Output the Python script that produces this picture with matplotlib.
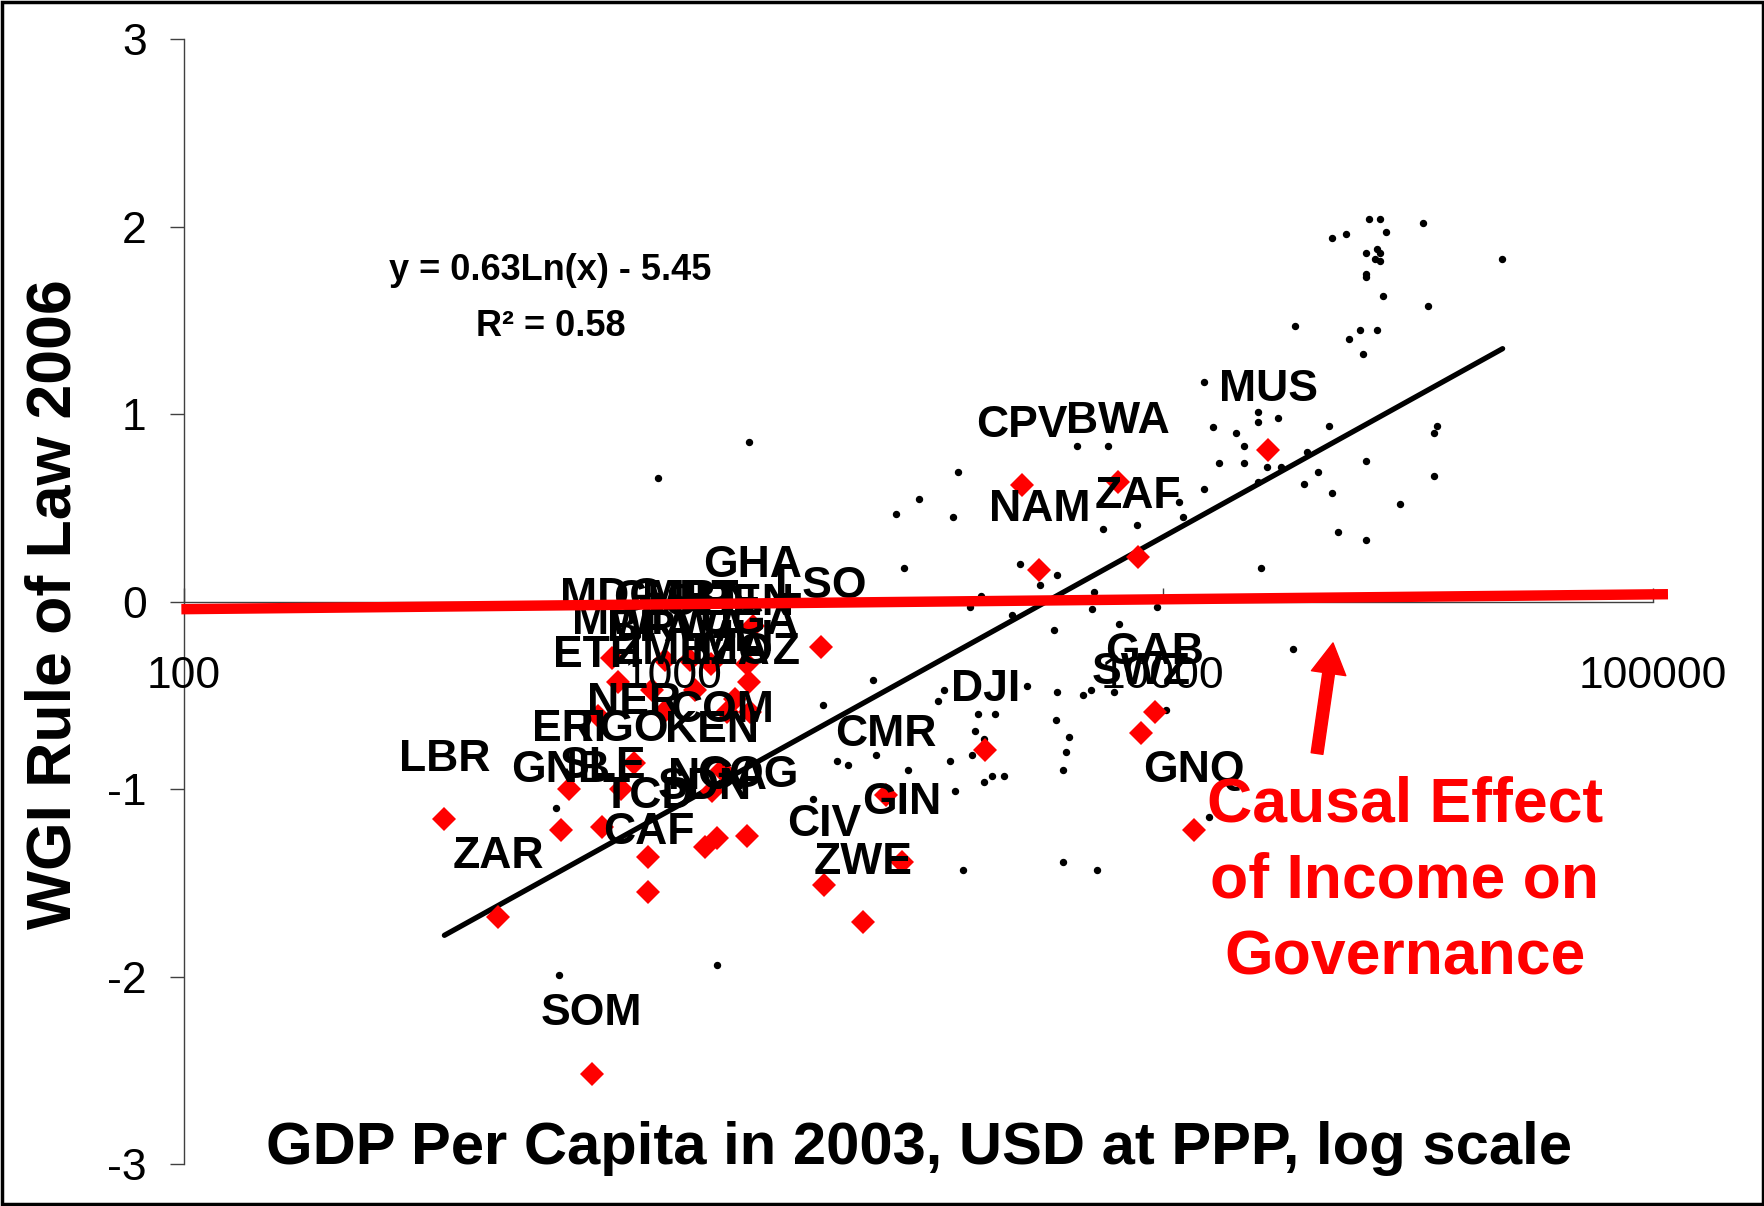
import matplotlib
matplotlib.use("Agg")
import matplotlib.pyplot as plt
from matplotlib.patches import Rectangle
from matplotlib.ticker import FixedLocator, FixedFormatter, NullLocator

plt.rcParams["font.family"] = ["Liberation Sans", "DejaVu Sans"]
plt.rcParams["axes.unicode_minus"] = False

# other countries (black dots): GDP per capita 2003 (USD PPP), WGI rule of law 2006
other_gdp = [26300, 27750, 33900, 22100, 23650, 28500, 26000, 27400, 27750, 27100,
             27750, 49200, 25950, 25950, 28150, 34800, 18650, 25300, 27400, 24000,
             25600, 12150, 15650, 15650, 17200, 21850, 36250, 35800, 12650, 14100,
             7740, 14650, 13000, 14650, 16300, 17450, 19650, 26000, 20700, 35800,
             19400, 22150, 15650, 12150, 10800, 30500, 11000, 7540, 8840, 22750,
             26000, 15850, 9710, 8150, 6680, 3820, 3170, 2850, 3720, 2960,
             5110, 6090, 5610, 4250, 4030, 4920, 7230, 7160, 6000, 2560,
             2020, 3570, 3480, 5270, 6090, 6860, 7140, 7950, 4200, 4540,
             6040, 4140, 4310, 6420, 6330, 6250, 2160, 2280, 2600, 3010,
             3670, 4080, 4480, 4730, 4310, 3770, 10150, 1930, 3910, 6250,
             7330, 12400, 18400, 1430, 930, 576, 585, 1230]
other_wgi = [2.04, 2.04, 2.02, 1.94, 1.96, 1.97, 1.86, 1.88, 1.86, 1.83,
             1.82, 1.83, 1.75, 1.73, 1.63, 1.58, 1.47, 1.45, 1.45, 1.40,
             1.32, 1.17, 1.01, 0.96, 0.98, 0.94, 0.94, 0.90, 0.93, 0.90,
             0.83, 0.83, 0.74, 0.74, 0.72, 0.72, 0.80, 0.75, 0.69, 0.67,
             0.63, 0.58, 0.64, 0.60, 0.53, 0.52, 0.45, 0.39, 0.41, 0.37,
             0.33, 0.18, -0.03, -0.12, 0.83, 0.69, 0.55, 0.47, 0.45, 0.18,
             0.20, 0.14, 0.09, 0.03, -0.03, -0.07, 0.05, -0.04, -0.15, -0.42,
             -0.55, -0.47, -0.53, -0.45, -0.48, -0.50, -0.47, -0.48, -0.60, -0.60,
             -0.63, -0.69, -0.73, -0.72, -0.80, -0.90, -0.85, -0.87, -0.82, -0.90,
             -0.85, -0.82, -0.93, -0.93, -0.96, -1.01, -0.58, -1.05, -1.43, -1.39,
             -1.43, -1.15, -0.25, 0.85, 0.66, -1.10, -1.99, -1.94]

# sub-Saharan Africa (red diamonds)
africa_code = ["LBR", "ZAR", "GNB", "ERI", "SLE", "TCD", "CAF", "SOM", "NER", "TGO",
               "COM", "SDN", "NGA", "COG", "CIV", "ZWE", "GIN", "CMR", "DJI", "GAB",
               "SWZ", "GNQ", "CPV", "NAM", "BWA", "ZAF", "MUS", "LSO", "GHA", "MDG",
               "GMB", "MRT", "SEN", "BEN", "MWI", "BFA", "RWA", "MLI", "UGA", "ETH",
               "ZMB", "TZA", "MOZ", "KEN"]
africa_gdp = [341, 439, 589, 613, 717, 890, 890, 682, 833, 782,
              1256, 1161, 1229, 1417, 2032, 2445, 2928, 2720, 4338, 9636,
              9009, 11590, 5162, 5592, 8108, 8909, 16410, 2003, 1455, 750,
              962, 1082, 1195, 1415, 771, 905, 1108, 1337, 1428, 702,
              958, 1288, 1435, 1200]
africa_wgi = [-1.16, -1.68, -1.22, -1.00, -1.20, -1.36, -1.55, -2.52, -0.86, -1.00,
              -0.90, -1.31, -1.26, -1.25, -1.51, -1.71, -1.39, -1.03, -0.79, -0.59,
              -0.70, -1.22, 0.62, 0.17, 0.64, 0.24, 0.81, -0.24, -0.13, -0.30,
              -0.31, -0.31, -0.33, -0.33, -0.43, -0.47, -0.47, -0.52, -0.43, -0.61,
              -0.59, -0.59, -0.59, -1.01]

# fitted log trend (end points) and the red "causal effect" line
trend_gdp = [341, 49400]
trend_wgi = [-1.78, 1.35]
causal_gdp = [99, 107500]
causal_wgi = [-0.04, 0.04]
arrow_tail = (20640, -0.81)
arrow_tip = (22250, -0.22)

x_ticks = [100, 1000, 10000, 100000]
x_tick_labels = ["100", "1000", "10000", "100000"]
y_ticks = [-3, -2, -1, 0, 1, 2, 3]
y_tick_labels = ["-3", "-2", "-1", "0", "1", "2", "3"]

fig = plt.figure(figsize=(17.65, 12.06), dpi=100)
ax = fig.add_axes([0.10397, 0.03483, 0.83235, 0.93250])

ax.set_xscale("log")
ax.set_xlim(100, 100000)
ax.set_ylim(-3, 3)

ax.plot(other_gdp, other_wgi, "o", color="black", markersize=4.3, zorder=2)
ax.plot(trend_gdp, trend_wgi, "-", color="black", linewidth=3.8,
        solid_capstyle="round", zorder=2.1)
ax.plot(africa_gdp, africa_wgi, "D", color="#ff0000", markersize=12.5,
        markeredgewidth=0, zorder=2.2)

for code, gx, gy in zip(africa_code, africa_gdp, africa_wgi):
    ax.annotate(code, (gx, gy), xytext=(0, 35), textcoords="offset points",
                ha="center", va="baseline", fontsize=32, fontweight="bold",
                color="black", zorder=3)

ax.plot(causal_gdp, causal_wgi, "-", color="#ff0000", linewidth=7.5,
        solid_capstyle="butt", clip_on=False, zorder=5)
ax.annotate("", xy=arrow_tip, xytext=arrow_tail,
            arrowprops=dict(color="#ff0000", width=8.5, headwidth=25,
                            headlength=22, shrink=0), zorder=6)

# axes: x axis crossing at y = 0, Excel-like ticks
ax.set_axisbelow(False)
for side in ("top", "right"):
    ax.spines[side].set_visible(False)
ax.spines["bottom"].set_position(("data", 0))
for side in ("bottom", "left"):
    ax.spines[side].set_color("#404040")
    ax.spines[side].set_linewidth(1.0)

ax.xaxis.set_major_locator(FixedLocator(x_ticks))
ax.xaxis.set_major_formatter(FixedFormatter(x_tick_labels))
ax.xaxis.set_minor_locator(NullLocator())
ax.yaxis.set_major_locator(FixedLocator(y_ticks))
ax.yaxis.set_major_formatter(FixedFormatter(y_tick_labels))
ax.tick_params(axis="x", direction="in", length=10, width=1, pad=39,
               labelsize=32, color="#404040")
ax.tick_params(axis="y", direction="out", length=10, width=1, pad=16.5,
               labelsize=32, color="#404040")

fig.text(0.3118, 1 - 271 / 1206, "y = 0.63Ln(x) - 5.45", ha="center", va="center",
         fontsize=26, fontweight="bold")
fig.text(0.3118, 1 - 326.5 / 1206, "R² = 0.58", ha="center", va="center",
         fontsize=26, fontweight="bold")

for txt, yy in [("Causal Effect", 805), ("of Income on", 881), ("Governance", 958)]:
    fig.text(1405 / 1765, 1 - yy / 1206, txt, ha="center", va="center",
             fontsize=45, fontweight="bold", color="#ff0000", zorder=7)

fig.text(919 / 1765, 1 - 1148 / 1206, "GDP Per Capita in 2003, USD at PPP, log scale",
         ha="center", va="center", fontsize=43, fontweight="bold")
fig.text(54 / 1765, 1 - 604 / 1206, "WGI Rule of Law 2006", rotation=90,
         ha="center", va="center", fontsize=45, fontweight="bold")

fig.patches.append(Rectangle((0.0012, 0.0017), 0.9976, 0.9966, transform=fig.transFigure,
                             fill=False, edgecolor="black", linewidth=2.5))

fig.savefig("out.png", dpi=100)
